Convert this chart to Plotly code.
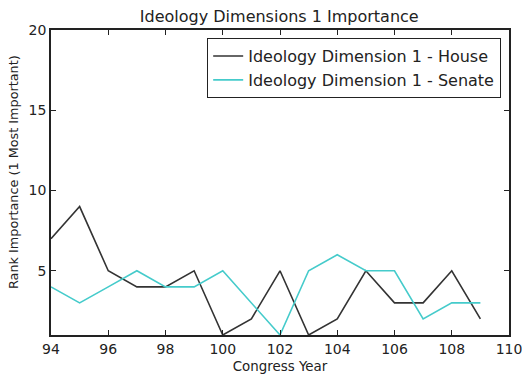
import plotly.graph_objects as go

years = list(range(94, 110))
house = [7, 9, 5, 4, 4, 5, 1, 2, 5, 1, 2, 5, 3, 3, 5, 2]
senate = [4, 3, 4, 5, 4, 4, 5, 3, 1, 5, 6, 5, 5, 2, 3, 3]
x_ticks = [94, 96, 98, 100, 102, 104, 106, 108, 110]
y_ticks = [5, 10, 15, 20]

fig = go.Figure()
fig.add_trace(go.Scatter(x=years, y=house, mode="lines", name="Ideology Dimension 1 - House",
                         line=dict(color="#333333", width=1.6)))
fig.add_trace(go.Scatter(x=years, y=senate, mode="lines", name="Ideology Dimension 1 - Senate",
                         line=dict(color="#45cbcb", width=1.6)))

axis_common = dict(showline=True, linecolor="#222222", linewidth=1.5, mirror="ticks",
                   ticks="inside", ticklen=5, tickcolor="#222222", showgrid=False, zeroline=False,
                   automargin=False, ticklabeloverflow="allow",
                   tickfont=dict(size=14, color="#222222"))

fig.update_layout(
    width=522, height=374,
    margin=dict(l=51, r=13, t=30, b=39),
    paper_bgcolor="white", plot_bgcolor="white",
    font=dict(family="DejaVu Sans", color="#222222"),
    title=dict(text="Ideology Dimensions 1 Importance", x=0.535, xanchor="center", y=0.955, yanchor="middle",
               font=dict(size=16)),
    xaxis=dict(range=[94, 110], tickvals=x_ticks,
               title=dict(text="Congress Year", font=dict(size=13.4)), **axis_common),
    yaxis=dict(range=[1, 20], tickvals=y_ticks, **axis_common),
    annotations=[dict(text="Rank Importance (1 Most Important)", xref="paper", yref="paper",
                      x=-38/458, y=(335-172)/305, xanchor="center", yanchor="middle",
                      textangle=-90, showarrow=False, font=dict(size=12.8, color="#222222"))],
    legend=dict(x=0.9825, y=0.974, xanchor="right", yanchor="top", bgcolor="white",
                bordercolor="#222222", borderwidth=1.2, font=dict(size=16),
                itemwidth=30, tracegroupgap=0),
    showlegend=True,
)

fig.write_html("out.html")
